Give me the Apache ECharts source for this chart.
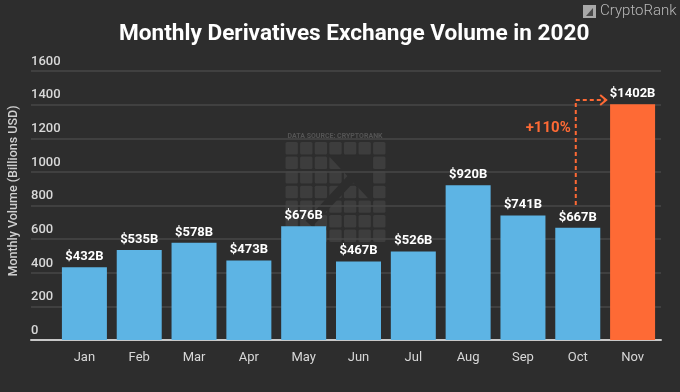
<!DOCTYPE html>
<html><head><meta charset="utf-8">
<script src="https://cdn.jsdelivr.net/npm/echarts@6/dist/echarts.min.js"></script>
<style>html,body{margin:0;padding:0;background:#2d2d2d;}#c{width:680px;height:392px;}</style>
</head><body><div id="c"></div>
<script>
const months = ['Jan','Feb','Mar','Apr','May','Jun','Jul','Aug','Sep','Oct','Nov'];
const volumes = [432,535,578,473,676,467,526,920,741,667,1402];
const yTicks = {min:0, max:1600, interval:200};
const growthLabel = '+110%';
const BLUE = '#5db4e4', ORANGE = '#fe6a35', BG = '#2d2d2d';
const FONT = 'Roboto';

const chart = echarts.init(document.getElementById('c'));

chart.setOption({
  backgroundColor:BG,
  animation:false,
  title:{text:'Monthly Derivatives Exchange Volume in 2020', left:114, top:18,
    textStyle:{color:'#ffffff', fontFamily:FONT, fontWeight:'bold', fontSize:22.6}},
  grid:[
    {left:31, right:19, top:71, bottom:52},
    {left:57, right:20, top:71, bottom:52}
  ],
  xAxis:[
    {gridIndex:0, type:'value', min:0, max:1, axisLine:{show:true, onZero:false, lineStyle:{color:'#c8c8c8', width:2}},
      axisTick:{show:false}, axisLabel:{show:false}, splitLine:{show:false}},
    {gridIndex:1, type:'category', data:months, axisLine:{show:false}, axisTick:{show:false},
      axisLabel:{color:'#d8d8d8', fontFamily:FONT, fontSize:13, margin:11}}
  ],
  yAxis:[
    {gridIndex:0, type:'value', min:yTicks.min, max:yTicks.max, interval:yTicks.interval,
      axisLine:{show:false}, axisTick:{show:false},
      axisLabel:{inside:true, color:'#d8d8d8', fontFamily:FONT, fontSize:13, fontWeight:500, verticalAlign:'bottom', margin:0, padding:[0,0,3,0],
        formatter:v=>String(v)},
      splitLine:{lineStyle:{color:'#474747', width:1.5}}},
    {gridIndex:1, type:'value', min:yTicks.min, max:yTicks.max, interval:yTicks.interval, show:false}
  ],
  series:[{
    type:'bar', xAxisIndex:1, yAxisIndex:1, barWidth:45, z:5,
    data: volumes.map((v,i)=>({value:v, itemStyle:{color: i===volumes.length-1?ORANGE:BLUE}})),
    label:{show:true, position:'top', distance:4, color:'#ffffff', fontFamily:FONT, fontWeight:'bold', fontSize:13,
      formatter:p=>'$'+p.value+'B'}
  }]
});

// watermark
const wm = [];
const pitch = 14.6, sz = 12.4, x0 = 285.5, y0 = 142;
for (let r = 0; r < 7; r++) for (let c = 0; c < 7; c++) {
  wm.push({type:'rect', shape:{x:x0+c*pitch, y:y0+r*pitch, width:sz, height:sz, r:1.5}, style:{fill:'#3d3d3d'}, z:-10, silent:true});
}
wm.push({type:'polygon', shape:{points:[[x0+3*pitch-1,y0+pitch-1],[x0+6*pitch-1,y0+pitch-1],[x0+6*pitch-1,y0+4*pitch+2]]}, style:{fill:BG}, z:-9, silent:true});
wm.push({type:'line', shape:{x1:x0+4.6*pitch, y1:y0+2.4*pitch, x2:x0+1.6*pitch, y2:y0+5.6*pitch}, style:{stroke:BG, lineWidth:9}, z:-9, silent:true});

// growth annotation using library scales
const n = months.length;
const pLow = chart.convertToPixel({xAxisIndex:1, yAxisIndex:1}, [n-2, 803]);
const pHigh = chart.convertToPixel({xAxisIndex:1, yAxisIndex:1}, [n-2, 1427]);
const pNov = chart.convertToPixel({xAxisIndex:1, yAxisIndex:1}, [n-1, 1427]);
const band = pNov[0]-pHigh[0];
const xV = pHigh[0]-2;
const xEnd = pHigh[0] + band/2 + 1;
const pTxt = chart.convertToPixel({xAxisIndex:1, yAxisIndex:1}, [n-2, 1258]);
const dash = {stroke:ORANGE, lineWidth:2, lineDash:[4,3], fill:null};

const graphics = [
  {type:'text', x:14, y:191, rotation:Math.PI/2, style:{text:'Monthly Volume (Billions USD)', fill:'#d0d0d0', font:'500 12.5px Roboto', textAlign:'center', textVerticalAlign:'middle'}},
  {type:'text', x:600, y:4, style:{text:'CryptoRank', fill:'#b8b8b8', font:'300 15px Roboto'}},
  {type:'rect', shape:{x:583, y:5, width:13, height:13}, style:{fill:'#a8a8a8'}},
  {type:'polygon', shape:{points:[[586,16],[593,8],[593,16]]}, style:{fill:'#4a4a4a'}},
  {type:'text', x:335, y:136, style:{text:'DATA SOURCE: CRYPTORANK', fill:'#545454', font:'bold 7px Roboto', textAlign:'center', textVerticalAlign:'middle'}, z:-10},
  ...wm,
  {type:'line', shape:{x1:xV, y1:pLow[1], x2:xV, y2:pHigh[1]}, style:dash, z:10},
  {type:'line', shape:{x1:xV, y1:pHigh[1], x2:xEnd, y2:pHigh[1]}, style:dash, z:10},
  {type:'polyline', shape:{points:[[xEnd-6,pHigh[1]-5],[xEnd,pHigh[1]],[xEnd-6,pHigh[1]+5]]}, style:{stroke:ORANGE, lineWidth:2, fill:null}, z:10},
  {type:'text', x:xV-5, y:pTxt[1], style:{text:growthLabel, fill:ORANGE, font:'bold 15px Roboto', textAlign:'right', textVerticalAlign:'middle'}, z:10}
];
chart.setOption({graphic:graphics});
</script>
</body></html>
